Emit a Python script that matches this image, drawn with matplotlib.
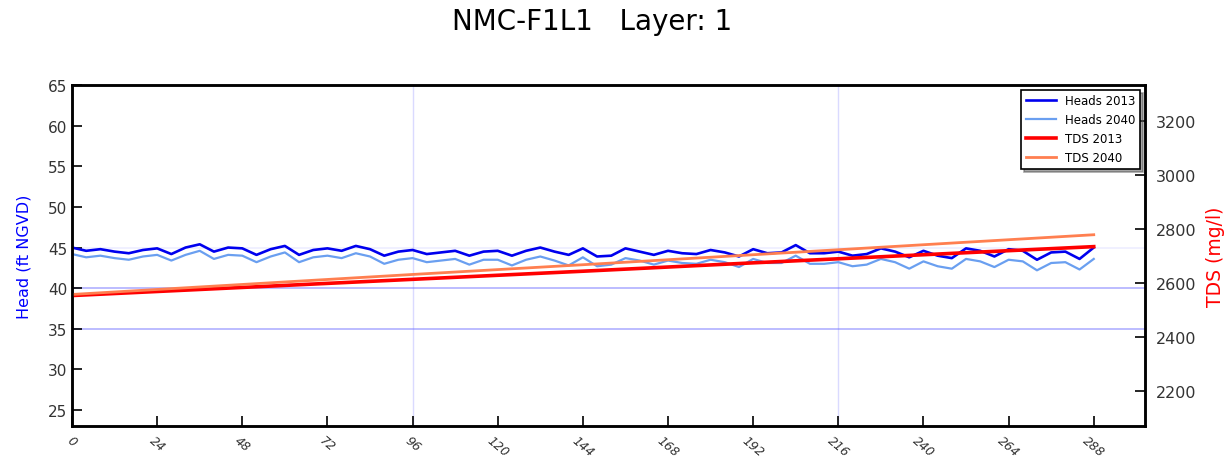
import matplotlib
matplotlib.use("Agg")
import matplotlib.pyplot as plt

# ------------------------------------------------------------
# Data
# ------------------------------------------------------------
time_h = list(range(0, 289, 4))

heads_2013 = [45.0, 44.6, 44.8, 44.5, 44.3, 44.7, 44.9, 44.2, 45.0, 45.4,
              44.5, 45.0, 44.9, 44.1, 44.8, 45.2, 44.1, 44.7, 44.9, 44.6,
              45.2, 44.8, 44.0, 44.5, 44.7, 44.2, 44.4, 44.6, 44.0, 44.5,
              44.6, 44.0, 44.6, 45.0, 44.5, 44.1, 44.9, 43.9, 44.0, 44.9,
              44.5, 44.1, 44.6, 44.3, 44.2, 44.7, 44.4, 43.9, 44.8, 44.3,
              44.4, 45.3, 44.3, 44.3, 44.5, 44.0, 44.2, 44.9, 44.5, 43.8,
              44.6, 44.0, 43.7, 44.9, 44.6, 43.9, 44.8, 44.6, 43.5, 44.4,
              44.5, 43.6, 45.0]

heads_2040 = [44.2, 43.8, 44.0, 43.7, 43.5, 43.9, 44.1, 43.4, 44.1, 44.6,
              43.6, 44.1, 44.0, 43.2, 43.9, 44.4, 43.2, 43.8, 44.0, 43.7,
              44.3, 43.9, 43.0, 43.5, 43.7, 43.2, 43.4, 43.6, 42.9, 43.5,
              43.5, 42.8, 43.5, 43.9, 43.4, 42.8, 43.8, 42.7, 42.9, 43.7,
              43.4, 42.9, 43.4, 43.1, 43.0, 43.5, 43.2, 42.6, 43.6, 43.1,
              43.1, 44.0, 43.0, 43.0, 43.2, 42.7, 42.9, 43.6, 43.2, 42.4,
              43.3, 42.7, 42.4, 43.6, 43.3, 42.6, 43.5, 43.3, 42.2, 43.1,
              43.2, 42.3, 43.6]

tds_time = [0, 48, 96, 144, 192, 240, 288]
tds_2013 = [2553, 2583, 2613, 2643, 2674, 2704, 2734]
tds_2040 = [2557, 2594, 2631, 2667, 2704, 2741, 2778]

x_ticks = [0, 24, 48, 72, 96, 120, 144, 168, 192, 216, 240, 264, 288]
head_ticks = [25, 30, 35, 40, 45, 50, 55, 60, 65]
tds_ticks = [2200, 2400, 2600, 2800, 3000, 3200]

# ------------------------------------------------------------
# Figure
# ------------------------------------------------------------
fig = plt.figure(figsize=(12.31, 4.6), dpi=100)
ax = fig.add_axes([0.0585, 0.071, 0.8715, 0.742])
ax2 = ax.twinx()

# faint grid lines like the original
for yv, a in [(35, 0.55), (40, 0.55), (45, 0.12)]:
    ax.axhline(yv, color="#6f6fff", lw=1.2, alpha=a, zorder=0)
for xv in [96, 216]:
    ax.axvline(xv, color="#6f6fff", lw=1.0, alpha=0.25, zorder=0)

l1, = ax.plot(time_h, heads_2013, color="#0000ee", lw=1.9, label="Heads 2013")
l2, = ax.plot(time_h, heads_2040, color="#6a9ff0", lw=1.6, label="Heads 2040")
l3, = ax2.plot(tds_time, tds_2013, color="#ff0000", lw=2.6, label="TDS 2013")
l4, = ax2.plot(tds_time, tds_2040, color="#ff7f50", lw=2.0, label="TDS 2040")

ax.set_xlim(0, 302.4)
ax.set_ylim(23, 65)
ax2.set_ylim(2069, 3332)

ax.set_xticks(x_ticks)
ax.set_xticklabels([str(t) for t in x_ticks], rotation=-40, ha="center",
                   fontsize=9, style="italic")
ax.set_yticks(head_ticks)
ax2.set_yticks(tds_ticks)

ax.tick_params(axis="both", direction="in", length=7, width=1.2,
               labelsize=11, colors="black", labelcolor="#333333")
ax.tick_params(axis="x", labelsize=9, pad=5)
ax2.tick_params(axis="y", direction="in", length=7, width=1.2,
                labelsize=11.5, labelcolor="#333333", pad=8)

for sp in list(ax.spines.values()) + list(ax2.spines.values()):
    sp.set_linewidth(1.8)

ax.set_ylabel("Head (ft NGVD)", color="#0000ff", fontsize=11.5, labelpad=12)
ax2.set_ylabel("TDS (mg/l)", color="#ff0000", fontsize=13.5, labelpad=7)

leg = ax2.legend(handles=[l1, l2, l3, l4], loc="upper right", fontsize=8.5,
                 frameon=True, fancybox=False, shadow=True,
                 borderaxespad=0.4, handlelength=2.5)
leg.get_frame().set_edgecolor("black")
leg.get_frame().set_linewidth(1.2)

fig.suptitle("NMC-F1L1   Layer: 1", x=0.481, y=0.953, fontsize=20,
             va="center")

fig.savefig("out.png", dpi=100)
